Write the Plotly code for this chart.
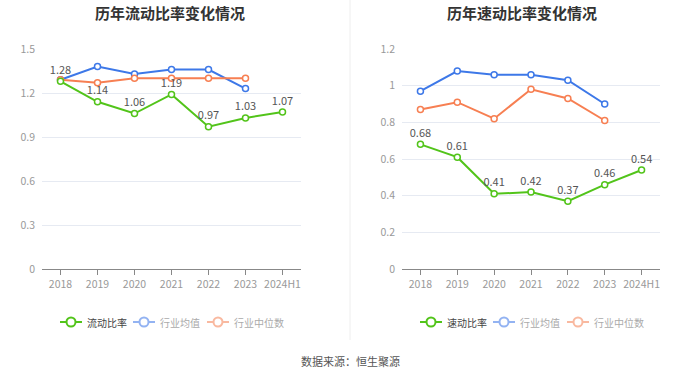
import plotly.graph_objects as go

years = ["2018", "2019", "2020", "2021", "2022", "2023", "2024H1"]
current_ratio = [1.28, 1.14, 1.06, 1.19, 0.97, 1.03, 1.07]
current_ind_mean = [1.29, 1.38, 1.33, 1.36, 1.36, 1.23, None]
current_ind_median = [1.29, 1.27, 1.30, 1.30, 1.30, 1.30, None]
quick_ratio = [0.68, 0.61, 0.41, 0.42, 0.37, 0.46, 0.54]
quick_ind_mean = [0.97, 1.08, 1.06, 1.06, 1.03, 0.90, None]
quick_ind_median = [0.87, 0.91, 0.82, 0.98, 0.93, 0.81, None]
left_ticks = [0, 0.3, 0.6, 0.9, 1.2, 1.5]
right_ticks = [0, 0.2, 0.4, 0.6, 0.8, 1.0, 1.2]
left_legend = ["流动比率", "行业均值", "行业中位数"]
right_legend = ["速动比率", "行业均值", "行业中位数"]

GREEN = "#52c41a"
BLUE = "#3d78e8"
ORANGE = "#f77f52"
BLUE_L = "#93b3f2"
ORANGE_L = "#f9b9a0"
FONT = "Noto Sans CJK SC"

W, H = 700, 378
def px_x(p): return p / W
def px_y(p): return (H - p) / H

fig = go.Figure()

def add_panel(xa, ya, main, mean, median):
    fig.add_trace(go.Scatter(
        x=years, y=mean, xaxis=xa, yaxis=ya, mode="lines+markers",
        line=dict(color=BLUE, width=2),
        marker=dict(symbol="circle", size=6, color="white", line=dict(color=BLUE, width=1.5)),
        showlegend=False, hoverinfo="skip"))
    fig.add_trace(go.Scatter(
        x=years, y=median, xaxis=xa, yaxis=ya, mode="lines+markers",
        line=dict(color=ORANGE, width=2),
        marker=dict(symbol="circle", size=6, color="white", line=dict(color=ORANGE, width=1.5)),
        showlegend=False, hoverinfo="skip"))
    fig.add_trace(go.Scatter(
        x=years, y=main, xaxis=xa, yaxis=ya, mode="lines+markers+text",
        text=[f"{v:.2f}" for v in main], textposition="top center",
        textfont=dict(family=FONT, size=11, color="#555"),
        line=dict(color=GREEN, width=2),
        marker=dict(symbol="circle", size=6, color="white", line=dict(color=GREEN, width=1.5)),
        showlegend=False, hoverinfo="skip"))

add_panel("x", "y", current_ratio, current_ind_mean, current_ind_median)
add_panel("x2", "y2", quick_ratio, quick_ind_mean, quick_ind_median)

axis_common = dict(
    type="category", range=[-0.5, 6.5], showgrid=False, showline=True,
    linecolor="#888", linewidth=1, ticks="outside", ticklen=5, tickcolor="#888",
    tickfont=dict(family=FONT, size=10.5, color="#999"), fixedrange=True, automargin=False)
yaxis_common = dict(
    showgrid=True, gridcolor="#e6eaf2", gridwidth=1, zeroline=False, showline=False,
    ticks="", tickfont=dict(family=FONT, size=10.5, color="#999"), ticklabelstandoff=6,
    automargin=False, fixedrange=True)

shapes = [dict(type="line", xref="paper", yref="paper", x0=0.5, x1=0.5,
               y0=px_y(340), y1=1, line=dict(color="#eeeeee", width=1))]
annotations = [
    dict(text="<b>历年流动比率变化情况</b>", xref="paper", yref="paper", x=px_x(170), y=px_y(12),
         xanchor="center", yanchor="middle", showarrow=False,
         font=dict(family=FONT, size=15, color="#333")),
    dict(text="<b>历年速动比率变化情况</b>", xref="paper", yref="paper", x=px_x(522), y=px_y(12),
         xanchor="center", yanchor="middle", showarrow=False,
         font=dict(family=FONT, size=15, color="#333")),
    dict(text="数据来源：恒生聚源", xref="paper", yref="paper", x=0.5, y=px_y(361),
         xanchor="center", yanchor="middle", showarrow=False,
         font=dict(family=FONT, size=11, color="#555")),
]

# manual legends (icon line + hollow circle + label)
LEG_Y = 322
icon_starts = [60, 133, 207]
leg_colors = [GREEN, BLUE_L, ORANGE_L]
leg_text_colors = ["#444", "#aaa", "#aaa"]
for offset, names in [(0, left_legend), (360, right_legend)]:
    for x0, col, tcol, name in zip(icon_starts, leg_colors, leg_text_colors, names):
        xs = x0 + offset
        shapes.append(dict(type="line", xref="paper", yref="paper",
                           x0=px_x(xs), x1=px_x(xs + 22), y0=px_y(LEG_Y), y1=px_y(LEG_Y),
                           line=dict(color=col, width=2)))
        cx = xs + 11
        shapes.append(dict(type="circle", xref="paper", yref="paper",
                           x0=px_x(cx - 4.5), x1=px_x(cx + 4.5),
                           y0=px_y(LEG_Y + 4.5), y1=px_y(LEG_Y - 4.5),
                           fillcolor="white", line=dict(color=col, width=2)))
        annotations.append(dict(text=name, xref="paper", yref="paper",
                                x=px_x(xs + 25), y=px_y(LEG_Y), xanchor="left", yanchor="middle",
                                showarrow=False, font=dict(family=FONT, size=10, color=tcol)))

ydom = [px_y(269), px_y(49)]
fig.update_layout(
    width=W, height=H,
    margin=dict(l=0, r=0, t=0, b=0, pad=0, autoexpand=False),
    paper_bgcolor="white", plot_bgcolor="white",
    font=dict(family=FONT),
    showlegend=False,
    xaxis=dict(domain=[px_x(42), px_x(301)], anchor="y", **axis_common),
    yaxis=dict(domain=ydom, anchor="x", range=[0, 1.5], tickvals=left_ticks,
               ticktext=[f"{v:g}" for v in left_ticks], **yaxis_common),
    xaxis2=dict(domain=[px_x(402), px_x(660)], anchor="y2", **axis_common),
    yaxis2=dict(domain=ydom, anchor="x2", range=[0, 1.2], tickvals=right_ticks,
                ticktext=[f"{v:g}" for v in right_ticks], **yaxis_common),
    shapes=shapes,
    annotations=annotations,
)

fig.write_html("out.html", config={"displayModeBar": False},
               post_script="document.body.style.margin='0px';")
